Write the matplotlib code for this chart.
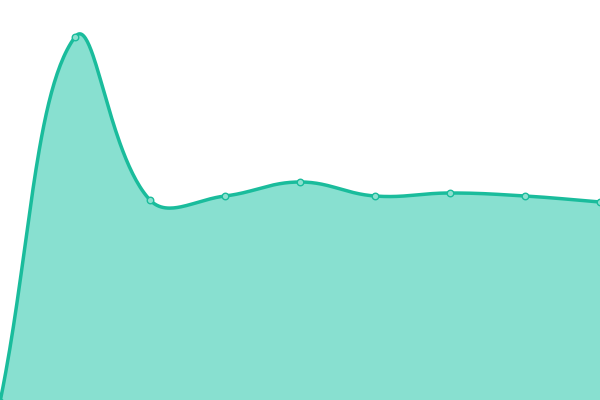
import numpy as np
import matplotlib
matplotlib.use("Agg")
import matplotlib.pyplot as plt

# data
labels = ["A", "B", "C", "D", "E", "F", "G", "H", "I"]
values = [-2, 363, 200, 204, 218, 204, 207, 204, 198]

line_color = "#1abc9c"
fill_color = "#88e0d0"
point_fill = "#8de0cf"

fig = plt.figure(figsize=(6, 4), dpi=100)
ax = fig.add_axes([0, 0, 1, 1])
ax.set_xlim(0, 600)
ax.set_ylim(0, 400)
ax.axis("off")

n = len(values)
xs = np.linspace(0, 600, n)
ys = np.array(values, dtype=float)

# Chart.js-style spline (tension 0.4) with control point capping
t = 0.4
pts = np.column_stack([xs, ys])
cps_prev = pts.copy()
cps_next = pts.copy()
for i in range(n):
    prev = pts[max(i - 1, 0)]
    cur = pts[i]
    nxt = pts[min(i + 1, n - 1)]
    d01 = np.hypot(*(cur - prev))
    d12 = np.hypot(*(nxt - cur))
    s = d01 + d12
    s01 = d01 / s if s else 0
    s12 = d12 / s if s else 0
    fa = t * s01
    fb = t * s12
    cps_prev[i] = cur - fa * (nxt - prev)
    cps_next[i] = cur + fb * (nxt - prev)
cps_prev[:, 0] = np.clip(cps_prev[:, 0], 0, 600)
cps_next[:, 0] = np.clip(cps_next[:, 0], 0, 600)
cps_prev[:, 1] = np.clip(cps_prev[:, 1], -2, 400)
cps_next[:, 1] = np.clip(cps_next[:, 1], -2, 400)

curve = []
tt = np.linspace(0, 1, 60)[:, None]
for i in range(n - 1):
    p0 = pts[i]
    p1 = cps_next[i]
    p2 = cps_prev[i + 1]
    p3 = pts[i + 1]
    seg = ((1 - tt) ** 3) * p0 + 3 * ((1 - tt) ** 2) * tt * p1 + 3 * (1 - tt) * tt ** 2 * p2 + tt ** 3 * p3
    curve.append(seg if i == 0 else seg[1:])
curve = np.vstack(curve)

ax.fill_between(curve[:, 0], -5, curve[:, 1], color=fill_color, lw=0, zorder=1)
ax.plot(curve[:, 0], curve[:, 1], color=line_color, lw=2.5, zorder=2, solid_capstyle="round")
ax.scatter(xs, ys, s=22, facecolor=point_fill, edgecolor=line_color, linewidths=1, zorder=3, clip_on=True)

fig.savefig("out.png", dpi=100)
